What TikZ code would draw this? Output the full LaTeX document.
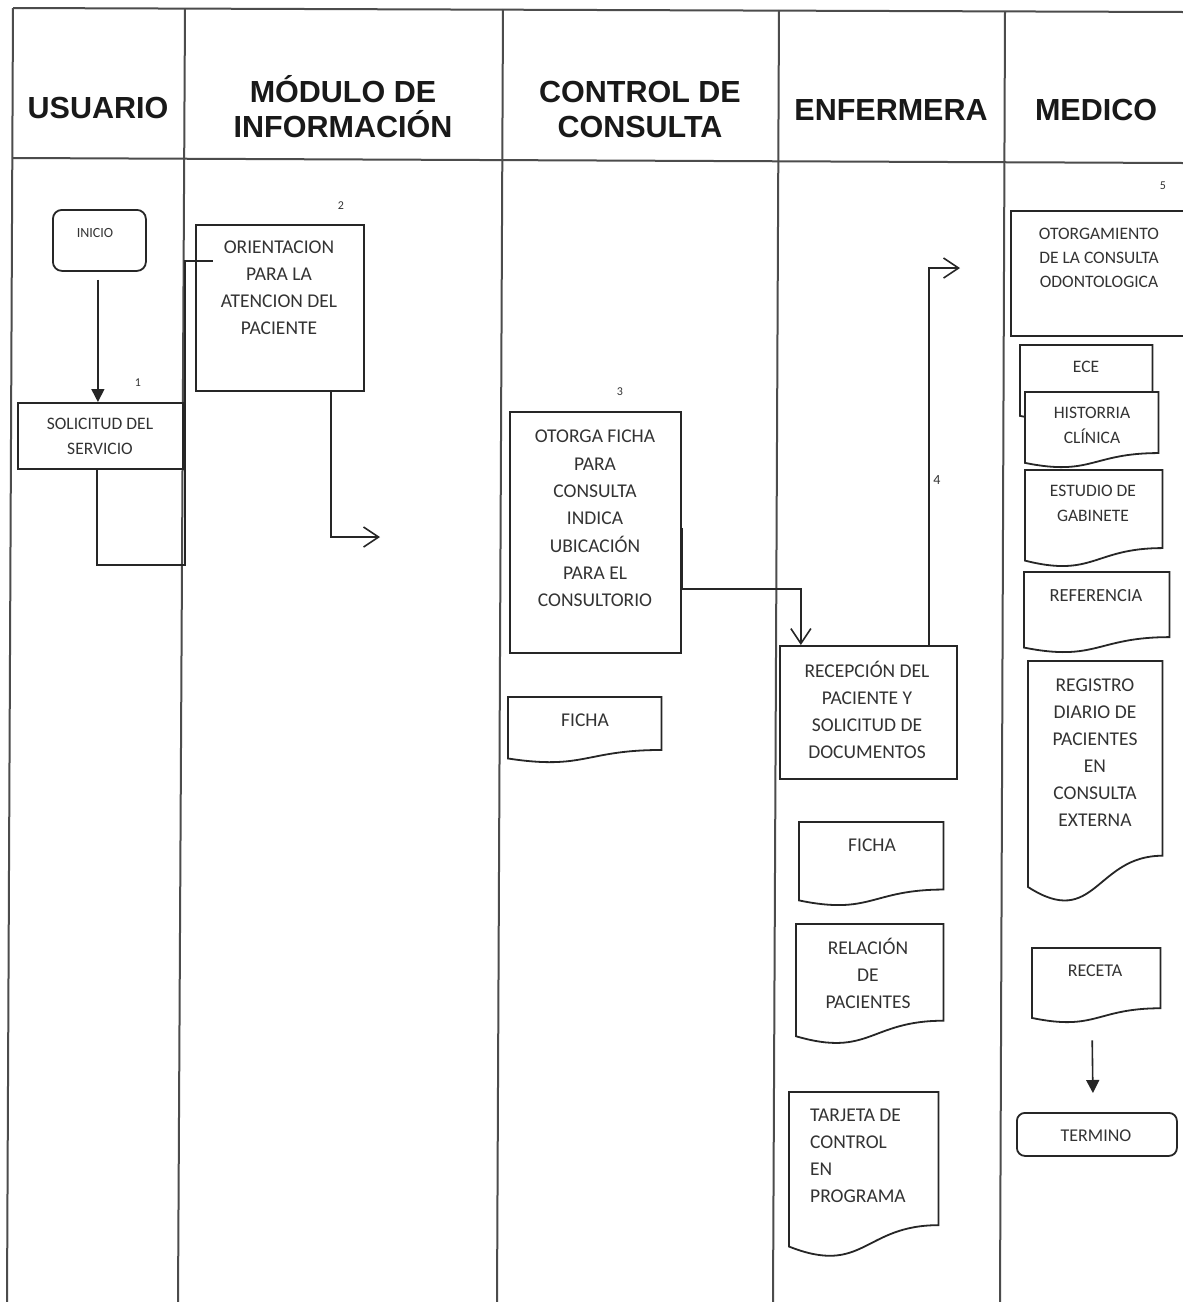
\documentclass[tikz,border=0pt]{standalone}
\usepackage{fontspec}
\setmainfont{Carlito}
\newfontfamily\headfont{Liberation Sans}
\usetikzlibrary{arrows.meta,calc}
\newcommand\docdraw[1]{\draw[shapeline,fill=white] (#1.north west) -- (#1.north east) -- ($(#1.north east)!0.81!(#1.south east)$) .. controls ($(#1.north)!0.81!(#1.south)$) and ($(#1.north)!1.12!(#1.south)$) .. ($(#1.north west)!0.94!(#1.south west)$) -- cycle;}
\tikzset{
  lane/.style={line width=2pt, draw=black!70},
  shapeline/.style={line width=1.8pt, draw=black!85},
  rbox/.style={shapeline, fill=white, inner sep=0pt, anchor=north west},
  docbox/.style={inner sep=0pt, anchor=north west},
  txt/.style={inner sep=0pt, text=black!80, align=center},
  body/.style={txt, font=\fontsize{19.5}{27}\selectfont},
  small/.style={txt, font=\fontsize{17.5}{25}\selectfont},
  head/.style={inner sep=0pt, align=center, text=black!90, font=\headfont\bfseries\fontsize{30.5}{35}\selectfont},
  num/.style={inner sep=0pt, text=black!80, font=\fontsize{12}{14}\selectfont},
  conn/.style={line width=1.6pt, draw=black!85},
  openhead/.style={-{Straight Barb[length=15pt,width=20pt]}},
  filledhead/.style={-{Triangle[length=13pt,width=13pt]}}
}
\begin{document}
\begin{tikzpicture}[x=1pt,y=-1pt]
\useasboundingbox (0,0) rectangle (1183,1302);
\fill[white] (0,0) rectangle (1183,1302);
% swimlane frame
\draw[lane] (13,8) -- (1183,12);
\draw[lane] (13,158) -- (1183,163);
\draw[lane] (13,8) -- (7,1302);
\draw[lane] (185,9) -- (178,1302);
\draw[lane] (503,9) -- (497,1302);
\draw[lane] (779,10) -- (773,1302);
\draw[lane] (1005,11) -- (1000,1302);
% headers
\node[head] (h1) at (98,108) {USUARIO};
\node[head, anchor=north] (h2) at (343,75) {MÓDULO DE\\INFORMACIÓN};
\node[head, anchor=north] (h3) at (640,81) {CONTROL DE\\CONSULTA};
\node[head] (h4) at (891,110) {ENFERMERA};
\node[head] (h5) at (1096,110) {MEDICO};
% USUARIO lane
\node[rbox, rounded corners=9pt, minimum width=93pt, minimum height=61pt] (inicio) at (52,209) {};
\node[txt, font=\fontsize{14}{16}\selectfont] (t-inicio) at (95,233) {INICIO};
\node[rbox, minimum width=165pt, minimum height=66pt] (solic) at (17,402) {};
\node[small, anchor=north] (t-solic) at (100,418) {SOLICITUD DEL\\SERVICIO};
\node[num] (n1) at (138,383) {1};
% MODULO lane
\node[rbox, minimum width=168pt, minimum height=166pt] (orient) at (195,224) {};
\node[body, anchor=north] (t-orient) at (279,241) {ORIENTACION\\PARA LA\\ATENCION DEL\\PACIENTE};
\node[num] (n2) at (341,206) {2};
% CONTROL lane
\node[rbox, minimum width=171pt, minimum height=241pt] (otorga) at (509,411) {};
\node[body, anchor=north, font=\fontsize{19.5}{27.3}\selectfont] (t-otorga) at (595,430) {OTORGA FICHA\\PARA\\CONSULTA\\INDICA\\UBICACIÓN\\PARA EL\\CONSULTORIO};
\node[num] (n3) at (620,392) {3};
\node[docbox, minimum width=153pt, minimum height=65pt] (ficha1) at (508,697) {};
\docdraw{ficha1}
\node[body] (t-ficha1) at (585,720) {FICHA};
% ENFERMERA lane
\node[rbox, minimum width=177pt, minimum height=133pt] (recep) at (779,645) {};
\node[body, anchor=north] (t-recep) at (867,661) {RECEPCIÓN DEL\\PACIENTE Y\\SOLICITUD DE\\DOCUMENTOS};
\node[docbox, minimum width=144pt, minimum height=83pt] (ficha2) at (799,822) {};
\docdraw{ficha2}
\node[body] (t-ficha2) at (872,845) {FICHA};
\node[docbox, minimum width=147pt, minimum height=119pt] (relac) at (796,924) {};
\docdraw{relac}
\node[body, anchor=north] (t-relac) at (868,938) {RELACIÓN\\DE\\PACIENTES};
\node[docbox, minimum width=149pt, minimum height=164pt] (tarjeta) at (789,1092) {};
\docdraw{tarjeta}
\node[body, anchor=north west, align=left] (t-tarjeta) at (810,1109) {TARJETA DE\\CONTROL\\EN\\PROGRAMA};
\node[num, font=\fontsize{14}{16}\selectfont] (n4) at (937,480) {4};
% MEDICO lane
\node[num] (n5) at (1163,186) {5};
\node[rbox, minimum width=185pt, minimum height=125pt] (otorgam) at (1010,210) {};
\node[small, anchor=north, font=\fontsize{17.5}{24}\selectfont] (t-otorgam) at (1099,228) {OTORGAMIENTO\\DE LA CONSULTA\\ODONTOLOGICA};
\node[docbox, minimum width=132pt, minimum height=75pt] (ece) at (1020,345) {};
\docdraw{ece}
\node[small] (t-ece) at (1086,367) {ECE};
\node[docbox, minimum width=133pt, minimum height=75pt] (hist) at (1025,392) {};
\docdraw{hist}
\node[small, anchor=north] (t-hist) at (1092,407) {HISTORRIA\\CLÍNICA};
\node[docbox, minimum width=137pt, minimum height=96pt] (estud) at (1025,470) {};
\docdraw{estud}
\node[small, anchor=north] (t-estud) at (1093,485) {ESTUDIO DE\\GABINETE};
\node[docbox, minimum width=145pt, minimum height=80pt] (refer) at (1024,572) {};
\docdraw{refer}
\node[body, font=\fontsize{18.5}{25}\selectfont] (t-refer) at (1096,596) {REFERENCIA};
\node[docbox, minimum width=134pt, minimum height=240pt] (regist) at (1028,661) {};
\docdraw{regist}
\node[body, anchor=north] (t-regist) at (1095,679) {REGISTRO\\DIARIO DE\\PACIENTES\\EN\\CONSULTA\\EXTERNA};
\node[docbox, minimum width=128pt, minimum height=74pt] (receta) at (1032,948) {};
\docdraw{receta}
\node[body, font=\fontsize{18}{25}\selectfont] (t-receta) at (1095,971) {RECETA};
\node[rbox, rounded corners=8pt, minimum width=160pt, minimum height=43pt] (termino) at (1016,1112) {};
\node[body, font=\fontsize{18}{25}\selectfont] (t-termino) at (1096,1136) {TERMINO};
% connectors
\coordinate (c1) at (380,537);
\coordinate (e1) at (960,268);
\draw[conn, filledhead] ([xshift=-1.5pt,yshift=-8pt]inicio.south) -- ([xshift=-2.5pt]solic.north);
\draw[conn] ([xshift=-3.5pt]solic.south) |- (185,565) |- ([xshift=18pt,yshift=47pt]orient.west);
\draw[conn, openhead] ([xshift=51pt]orient.south) |- (c1);
\draw[conn, openhead] ([yshift=4.5pt]otorga.east) -- ([yshift=-56.5pt]otorga.east) -| ([xshift=-67.5pt]recep.north);
\draw[conn, openhead] ([xshift=60.5pt]recep.north) |- (e1);
\draw[conn, filledhead] ([xshift=-4pt,yshift=-18pt]receta.south) -- ([xshift=-4pt,yshift=19pt]termino.north);
\end{tikzpicture}
\end{document}
